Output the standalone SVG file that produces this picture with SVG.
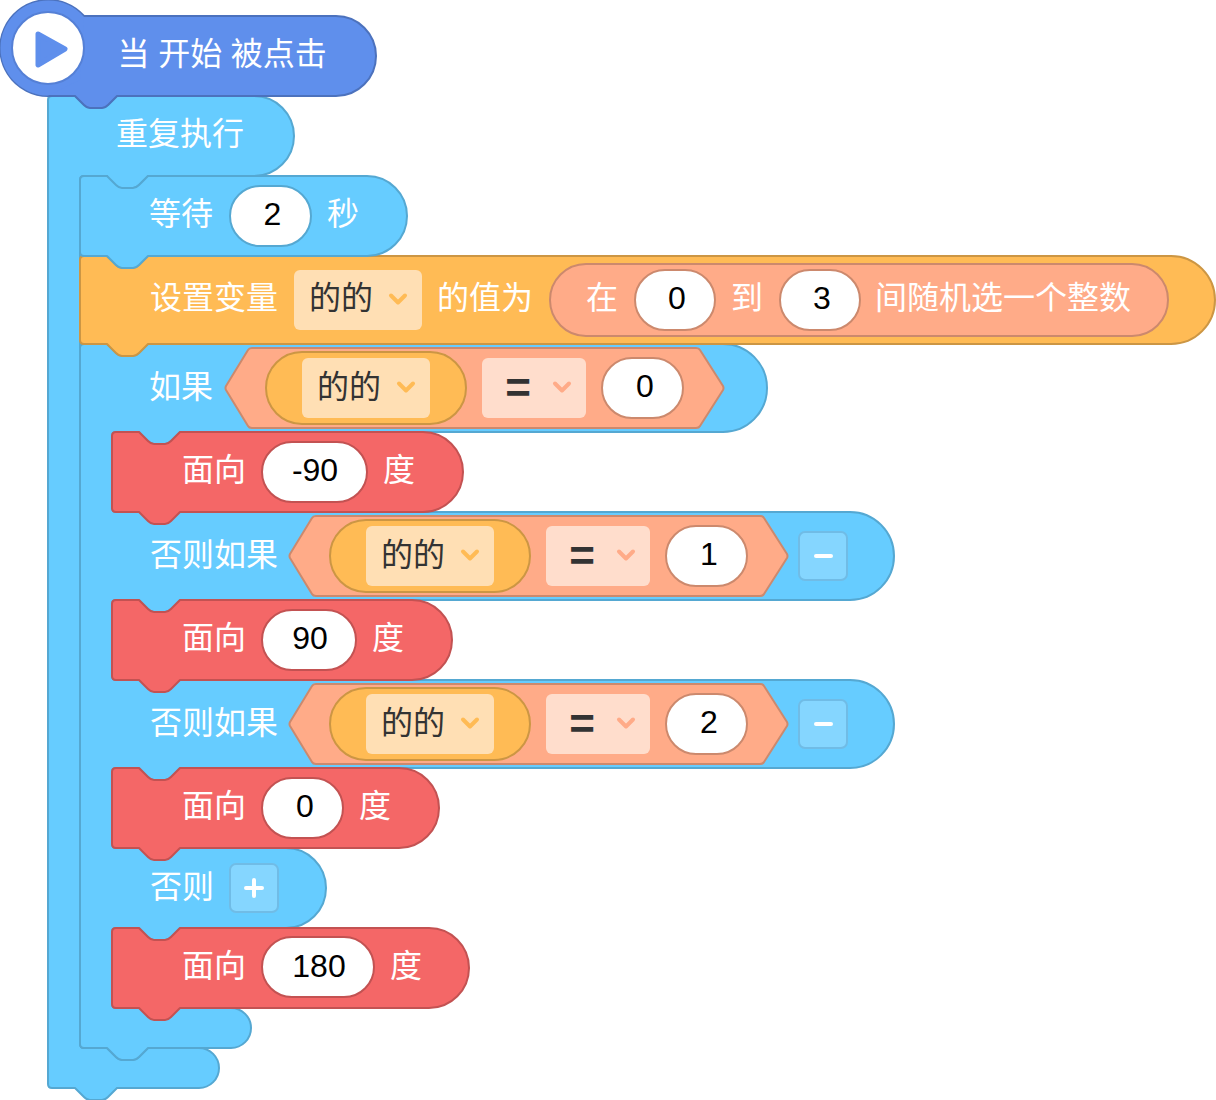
<svg xmlns="http://www.w3.org/2000/svg" width="1216" height="1100" viewBox="0 0 1216 1100">
<style>
.b{stroke-width:2;stroke-linejoin:round}
.blue{fill:#66CCFF;stroke:#55A8D2}
.hatc{fill:#5F8FEC;stroke:#4C72BD}
.orange{fill:#FFBB55;stroke:#CC9644}
.red{fill:#F46767;stroke:#C35252}
.sal{fill:#FFAB88;stroke:#CC896D}
.inp{fill:#fff;stroke-width:2}
.i1{stroke:#CC896D}.i2{stroke:#55A8D2}.i3{stroke:#C35252}
.dd1{fill:#FFDFB4}.dd2{fill:#FFDDCC}
.t{font-family:"Noto Sans CJK SC","Liberation Sans",sans-serif;font-size:32px;fill:#fff}
.d{font-family:"Noto Sans CJK SC","Liberation Sans",sans-serif;font-size:32px;fill:#333}
.n{font-family:"Liberation Sans",sans-serif;font-size:32px;fill:#000;text-anchor:middle}
.eq{font-family:"Liberation Sans",sans-serif;font-size:44px;font-weight:bold;fill:#333;text-anchor:middle}
.ch{fill:none;stroke-width:4;stroke-linecap:round;stroke-linejoin:round}
.c1{stroke:#FFBB55}.c2{stroke:#FFAB88}
.btn{fill:#85D6FF;stroke:#70BCE6;stroke-width:2}
.w{fill:none;stroke:#fff;stroke-width:4;stroke-linecap:round}
</style>
<defs>
<path id="chev" class="ch" d="M-7,-3.5 L0,3.5 L7,-3.5"/>
</defs>

<g id="forever">
<path class="b blue" d="M52,96 H75 L84,105 Q87,108 90,108 H102 Q105,108 108,105 L117,96 H254 A40,40 0 0 1 254,176 H148 L139,185 Q136,188 133,188 H115 Q112,188 109,185 L107,176 H84 Q80,176 80,180 V1044 Q80,1048 84,1048 H107 L116,1057 Q119,1060 122,1060 H133 Q136,1060 139,1057 L148,1048 H199 A20,20 0 0 1 199,1088 H117 L108,1097 Q105,1100 102,1100 H90 Q87,1100 84,1097 L75,1088 H52 Q48,1088 48,1084 V100 Q48,96 52,96 Z"/>
<text class="t" x="116" y="145">重复执行</text>
</g>

<g id="if-block">
<path class="b blue" d="M84,344 H107 L116,353 Q119,356 122,356 H133 Q136,356 139,353 L148,344 H723 A44,44 0 0 1 723,432 H180 L171,441 Q168,444 165,444 H154 Q151,444 148,441 L139,432 H116 Q112,432 112,436 V508 Q112,512 116,512 H850 A44,44 0 0 1 850,600 H180 L171,609 Q168,612 165,612 H154 Q151,612 148,609 L139,600 H116 Q112,600 112,604 V676 Q112,680 116,680 H850 A44,44 0 0 1 850,768 H180 L171,777 Q168,780 165,780 H154 Q151,780 148,777 L139,768 H116 Q112,768 112,772 V844 Q112,848 116,848 H286 A40,40 0 0 1 286,928 H180 L171,937 Q168,940 165,940 H154 Q151,940 148,937 L139,928 H116 Q112,928 112,932 V1004 Q112,1008 116,1008 H231 A20,20 0 0 1 231,1048 H148 L139,1057 Q136,1060 133,1060 H122 Q119,1060 116,1057 L107,1048 H84 Q80,1048 80,1044 V348 Q80,344 84,344 Z"/>
<text class="t" x="149" y="398">如果</text>
<text class="t" x="150" y="566">否则如果</text>
<text class="t" x="150" y="734">否则如果</text>
<text class="t" x="150" y="898">否则</text>
</g>

<g id="cond-0">
<path class="b sal" d="M226,386 L248,350 Q249,348 252,348 H696 Q699,348 700,350 L723,386 Q724,388 723,390 L700,426 Q699,428 696,428 H252 Q249,428 248,426 L226,390 Q225,388 226,386 Z"/>
<rect class="b orange" x="266" y="352" width="200" height="72" rx="36"/>
<rect class="dd1" x="302" y="358" width="128" height="60" rx="6"/>
<text class="d" x="317" y="398">的的</text>
<use href="#chev" x="406" y="387" class="c1"/>
<rect class="dd2" x="482" y="358" width="104" height="60" rx="6"/>
<text class="eq" x="518" y="403">=</text>
<use href="#chev" x="562" y="387" class="c2"/>
<rect class="inp i1" x="602" y="358" width="81" height="60" rx="30"/>
<text class="n" x="645" y="397">0</text>
</g>

<g id="cond-1">
<path class="b sal" d="M290,554 L312,518 Q313,516 316,516 H760 Q763,516 764,518 L787,554 Q788,556 787,558 L764,594 Q763,596 760,596 H316 Q313,596 312,594 L290,558 Q289,556 290,554 Z"/>
<rect class="b orange" x="330" y="520" width="200" height="72" rx="36"/>
<rect class="dd1" x="366" y="526" width="128" height="60" rx="6"/>
<text class="d" x="381" y="566">的的</text>
<use href="#chev" x="470" y="555" class="c1"/>
<rect class="dd2" x="546" y="526" width="104" height="60" rx="6"/>
<text class="eq" x="582" y="571">=</text>
<use href="#chev" x="626" y="555" class="c2"/>
<rect class="inp i1" x="666" y="526" width="81" height="60" rx="30"/>
<text class="n" x="709" y="565">1</text>
<rect class="btn" x="799" y="532" width="48" height="48" rx="6"/>
<path class="w" d="M816,556 H831"/>
</g>

<g id="cond-2">
<path class="b sal" d="M290,722 L312,686 Q313,684 316,684 H760 Q763,684 764,686 L787,722 Q788,724 787,726 L764,762 Q763,764 760,764 H316 Q313,764 312,762 L290,726 Q289,724 290,722 Z"/>
<rect class="b orange" x="330" y="688" width="200" height="72" rx="36"/>
<rect class="dd1" x="366" y="694" width="128" height="60" rx="6"/>
<text class="d" x="381" y="734">的的</text>
<use href="#chev" x="470" y="723" class="c1"/>
<rect class="dd2" x="546" y="694" width="104" height="60" rx="6"/>
<text class="eq" x="582" y="739">=</text>
<use href="#chev" x="626" y="723" class="c2"/>
<rect class="inp i1" x="666" y="694" width="81" height="60" rx="30"/>
<text class="n" x="709" y="733">2</text>
<rect class="btn" x="799" y="700" width="48" height="48" rx="6"/>
<path class="w" d="M816,724 H831"/>
</g>

<g id="else-plus">
<rect class="btn" x="230" y="864" width="48" height="48" rx="6"/>
<path class="w" d="M254,880 V896 M246,888 H262"/>
</g>

<g id="set-var">
<path class="b orange" d="M84,256 H107 L116,265 Q119,268 122,268 H133 Q136,268 139,265 L148,256 H1171 A44,44 0 0 1 1171,344 H148 L139,353 Q136,356 133,356 H122 Q119,356 116,353 L107,344 H84 Q80,344 80,340 V260 Q80,256 84,256 Z"/>
<text class="t" x="150" y="309">设置变量</text>
<rect class="dd1" x="294" y="270" width="128" height="60" rx="6"/>
<text class="d" x="309" y="309">的的</text>
<use href="#chev" x="398" y="299" class="c1"/>
<text class="t" x="437" y="309">的值为</text>
<rect class="b sal" x="550" y="264" width="618" height="72" rx="36"/>
<text class="t" x="586" y="309">在</text>
<rect class="inp i1" x="635" y="270" width="80" height="60" rx="30"/>
<text class="n" x="677" y="309">0</text>
<text class="t" x="731" y="309">到</text>
<rect class="inp i1" x="780" y="270" width="80" height="60" rx="30"/>
<text class="n" x="822" y="309">3</text>
<text class="t" x="875" y="309">间随机选一个整数</text>
</g>

<g id="wait">
<path class="b blue" d="M84,176 H107 L116,185 Q119,188 122,188 H133 Q136,188 139,185 L148,176 H367 A40,40 0 0 1 367,256 H148 L139,265 Q136,268 133,268 H122 Q119,268 116,265 L107,256 H84 Q80,256 80,252 V180 Q80,176 84,176 Z"/>
<text class="t" x="149" y="225">等待</text>
<rect class="inp i2" x="230" y="186" width="81" height="60" rx="30"/>
<text class="n" x="272.500" y="225">2</text>
<text class="t" x="327" y="225">秒</text>
</g>

<g id="face-m90">
<path class="b red" d="M116,432 H139 L148,441 Q151,444 154,444 H165 Q168,444 171,441 L180,432 H423 A40,40 0 0 1 423,512 H180 L171,521 Q168,524 165,524 H154 Q151,524 148,521 L139,512 H116 Q112,512 112,508 V436 Q112,432 116,432 Z"/>
<text class="t" x="182" y="481">面向</text>
<rect class="inp i3" x="262" y="442" width="105" height="60" rx="30"/>
<text class="n" x="315" y="481">-90</text>
<text class="t" x="383" y="481">度</text>
</g>

<g id="face-90">
<path class="b red" d="M116,600 H139 L148,609 Q151,612 154,612 H165 Q168,612 171,609 L180,600 H412 A40,40 0 0 1 412,680 H180 L171,689 Q168,692 165,692 H154 Q151,692 148,689 L139,680 H116 Q112,680 112,676 V604 Q112,600 116,600 Z"/>
<text class="t" x="182" y="649">面向</text>
<rect class="inp i3" x="262" y="610" width="94" height="60" rx="30"/>
<text class="n" x="310" y="649">90</text>
<text class="t" x="372" y="649">度</text>
</g>

<g id="face-0">
<path class="b red" d="M116,768 H139 L148,777 Q151,780 154,780 H165 Q168,780 171,777 L180,768 H399 A40,40 0 0 1 399,848 H180 L171,857 Q168,860 165,860 H154 Q151,860 148,857 L139,848 H116 Q112,848 112,844 V772 Q112,768 116,768 Z"/>
<text class="t" x="182" y="817">面向</text>
<rect class="inp i3" x="262" y="778" width="81" height="60" rx="30"/>
<text class="n" x="305" y="817">0</text>
<text class="t" x="359" y="817">度</text>
</g>

<g id="face-180">
<path class="b red" d="M116,928 H139 L148,937 Q151,940 154,940 H165 Q168,940 171,937 L180,928 H429 A40,40 0 0 1 429,1008 H180 L171,1017 Q168,1020 165,1020 H154 Q151,1020 148,1017 L139,1008 H116 Q112,1008 112,1004 V932 Q112,928 116,928 Z"/>
<text class="t" x="182" y="977">面向</text>
<rect class="inp i3" x="262" y="937" width="112" height="60" rx="30"/>
<text class="n" x="319" y="977">180</text>
<text class="t" x="390" y="977">度</text>
</g>

<g id="hat">
<path class="b hatc" d="M84,16 H336 A40,40 0 0 1 336,96 H117 L108,105 Q105,108 102,108 H90 Q87,108 84,105 L75,96 H48 A48,48 0 1 1 84,16 Z"/>
<path d="M48,0.500 A47.500,47.500 0 0 0 48,95.500 L80,80 L84,17 A47.500,47.500 0 0 0 48,0.500 Z" fill="#5F8FEC"/>
<circle cx="48" cy="48" r="36" fill="#fff" stroke="#5580D6" stroke-width="2"/>
<path d="M38,34 L65,49 L38,65 Z" fill="#5F8FEC" stroke="#5F8FEC" stroke-width="5" stroke-linejoin="round"/>
<text class="t" x="117.500" y="65" xml:space="preserve" word-spacing="1.5">当 开始 被点击</text>
</g>
</svg>
